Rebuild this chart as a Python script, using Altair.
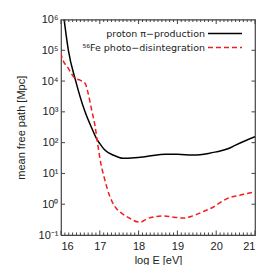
import altair as alt
import pandas as pd

# ---- data (log10 E [eV], log10 mean free path [Mpc]) ----
proton_logE = [16.08, 16.19, 16.38, 16.62, 16.80, 16.92, 17.0, 17.13, 17.34, 17.6, 17.9,
               18.2, 18.7, 19.0, 19.4, 19.8, 20.0, 20.3, 20.5, 20.75, 21.0]
proton_logL = [6.0, 5.0, 4.0, 3.0, 2.45, 2.12, 1.97, 1.76, 1.60, 1.49, 1.51,
               1.55, 1.62, 1.62, 1.60, 1.65, 1.70, 1.80, 1.92, 2.06, 2.19]

iron_logE = [16.0, 16.02, 16.19, 16.36, 16.49, 16.62, 16.70, 16.79, 16.88, 16.93, 17.01,
             17.13, 17.26, 17.39, 17.56, 17.82, 17.96, 18.05, 18.22, 18.45, 18.65,
             18.9, 19.16, 19.35, 19.5, 19.7, 19.93, 20.1, 20.28, 20.45, 20.61, 20.8, 21.0]
iron_logL = [4.92, 4.79, 4.41, 4.09, 4.03, 3.93, 3.60, 3.06, 2.52, 2.09, 1.44,
             0.79, 0.25, -0.08, -0.29, -0.49, -0.57, -0.58, -0.47, -0.40, -0.38,
             -0.42, -0.45, -0.40, -0.33, -0.22, -0.09, 0.05, 0.18, 0.25, 0.29, 0.35, 0.40]

x_major = [16, 17, 18, 19, 20, 21]
x_minor = [16 + i / 10 for i in range(51) if i % 10 != 0]
y_major = [0.1, 1, 10, 100, 1e3, 1e4, 1e5, 1e6]
y_labels = ["10⁻¹", "10⁰", "10¹", "10²", "10³", "10⁴", "10⁵", "10⁶"]

legend_labels = ["proton π−production", "⁵⁶Fe photo−disintegration"]

W, H = 194, 215.5
FONT = "Liberation Sans"

proton = pd.DataFrame({"E": proton_logE, "L": [10 ** v for v in proton_logL]})
iron = pd.DataFrame({"E": iron_logE, "L": [10 ** v for v in iron_logL]})

xscale = alt.Scale(domain=[16, 21], nice=False, zero=False)
yscale = alt.Scale(type="log", domain=[0.1, 1e6], nice=False)

label_expr = ""
for v, lab in zip(y_major, y_labels):
    label_expr += f"abs(datum.value - {v}) < {v}*0.01 ? '{lab}' : "
label_expr += "''"

x_axis = alt.Axis(values=x_major, ticks=False, domain=False, grid=False,
                  labelFontSize=11, labelPadding=5, labelColor="#222",
                  labelFont=FONT, titleFont=FONT, titleFontSize=11,
                  titleFontWeight="normal", titleColor="#222", titlePadding=3)
y_axis = alt.Axis(values=y_major, labelExpr=label_expr, ticks=False, domain=False,
                  grid=False, labelFontSize=11, labelPadding=3, labelColor="#222",
                  labelFont=FONT, titleFont=FONT, titleFontSize=11,
                  titleFontWeight="normal", titleColor="#222", titlePadding=12)

def xe():
    return alt.X("E:Q", scale=xscale, axis=x_axis, title="log E [eV]")

def ye():
    return alt.Y("L:Q", scale=yscale, axis=y_axis, title="mean free path [Mpc]")

proton_line = alt.Chart(proton).mark_line(color="black", strokeWidth=1.5, clip=True,
                                          interpolate="monotone").encode(x=xe(), y=ye())
iron_line = alt.Chart(iron).mark_line(color="#f21d1d", strokeWidth=1.5, strokeDash=[5, 3],
                                      clip=True, interpolate="monotone").encode(x=xe(), y=ye())

def xticks(vals, y0, y1):
    return alt.Chart(pd.DataFrame({"E": vals})).mark_rule(color="#444", strokeWidth=1).encode(
        x=xe(), y=alt.value(y0), y2=alt.value(y1))

def yticks(vals, x0, x1):
    return alt.Chart(pd.DataFrame({"L": vals})).mark_rule(color="#444", strokeWidth=1).encode(
        y=ye(), x=alt.value(x0), x2=alt.value(x1))

tick_layers = [
    xticks(x_minor, H, H - 2.5), xticks(x_major, H, H - 4.5),
    xticks(x_minor, 0, 2.5), xticks(x_major, 0, 4.5),
    yticks(y_major[1:-1], 0, 4), yticks(y_major[1:-1], W, W - 3.5),
]

LF = "DejaVu Sans"
leg_text1 = alt.Chart(pd.DataFrame({"t": [legend_labels[0]]})).mark_text(
    align="right", baseline="middle", font=LF, fontSize=9.5, color="#222").encode(
    text="t:N", x=alt.value(144), y=alt.value(14))
leg_text2 = alt.Chart(pd.DataFrame({"t": [legend_labels[1]]})).mark_text(
    align="right", baseline="middle", font=LF, fontSize=9.5, color="#222").encode(
    text="t:N", x=alt.value(144), y=alt.value(28))
leg_line1 = alt.Chart(pd.DataFrame({"t": [legend_labels[0]]})).mark_rule(
    color="black", strokeWidth=1.5).encode(x=alt.value(147), x2=alt.value(181), y=alt.value(14))
leg_line2 = alt.Chart(pd.DataFrame({"t": [legend_labels[1]]})).mark_rule(
    color="#f21d1d", strokeWidth=1.5, strokeDash=[5, 3]).encode(
    x=alt.value(147), x2=alt.value(181), y=alt.value(28))

chart = alt.layer(proton_line, iron_line, *tick_layers,
                  leg_text1, leg_text2, leg_line1, leg_line2).properties(
    width=W, height=H,
    autosize=alt.AutoSizeParams(type="none"),
    padding={"left": 53, "top": 11.5, "right": 10, "bottom": 30},
).configure_view(stroke="#444", strokeWidth=1.2)

chart.save("out.html", embed_options={"renderer": "svg", "actions": False})
